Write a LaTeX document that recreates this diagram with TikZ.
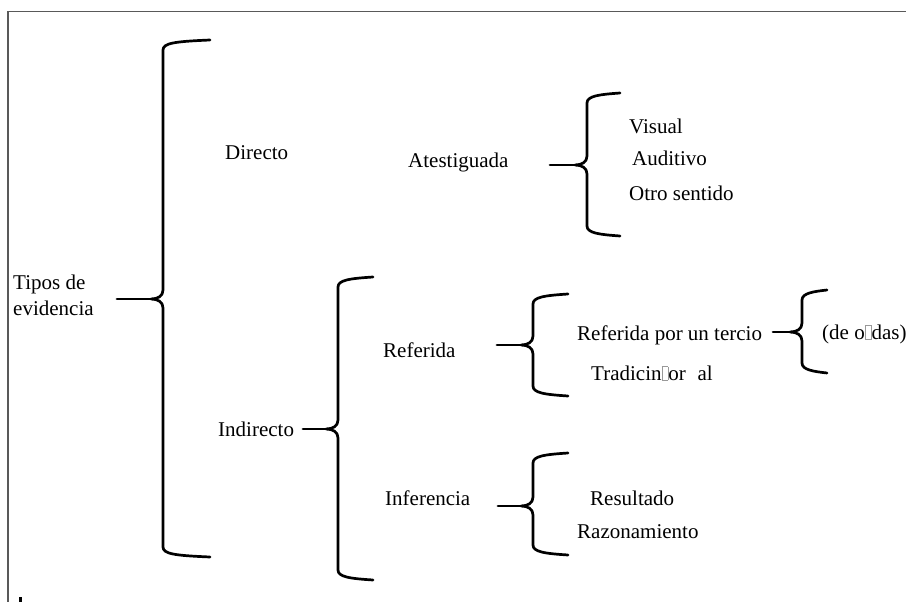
\documentclass[tikz,border=0pt]{standalone}
\usepackage{fontspec}
\setmainfont{Liberation Serif}
\newcommand{\singlifo}{{\color{gray!80}\setlength{\fboxsep}{0pt}\setlength{\fboxrule}{0.5pt}\fbox{\rule{0pt}{0.62em}\hspace{0.28em}}}}

\begin{document}
\begin{tikzpicture}[x=1pt,y=-1pt,
	llave/.style={line width=2.7pt,line cap=round,line join=round},
	etiqueta/.style={anchor=base west,inner sep=0pt,font=\fontsize{21}{26}\selectfont},
	marco/.style={draw=black!65,line width=1.3pt}]
\useasboundingbox (0,0) rectangle (906,602);

% marco
\draw[marco] (8,602) -- (8,11.5) -- (906,11.5);
\fill (19,597) rectangle (22,602);

% textos
\node[etiqueta,anchor=west,align=left] (tipos) at (13,295) {Tipos de\\evidencia};
\node[etiqueta] (directo) at (225,160) {Directo};
\node[etiqueta] (atest) at (408,167) {Atestiguada};
\node[etiqueta] (visual) at (629,134) {Visual};
\node[etiqueta] (auditivo) at (632,165) {Auditivo};
\node[etiqueta] (otro) at (629,200) {Otro sentido};
\node[etiqueta] (indirecto) at (218,436) {Indirecto};
\node[etiqueta] (referida) at (383,357) {Referida};
\node[etiqueta] (tercio) at (577,340) {Referida por un tercio};
\node[etiqueta] (tradicion) at (591,380) {Tradicin\singlifo or\hspace{0.55em}al};
\node[etiqueta] (oidas) at (822,339) {(de o\singlifo das)};
\node[etiqueta] (inferencia) at (385,505) {Inferencia};
\node[etiqueta] (resultado) at (590,505) {Resultado};
\node[etiqueta] (razon) at (577,538) {Razonamiento};

% llaves: cola, vertical, punta, arriba, medio, abajo
\foreach \xl/\xv/\xr/\yt/\ym/\yb in {117/163/210/40/299/557,
	550/587/620/93/165/236, 303/338/373/277/429/580,
	497/533/568/294/345/396, 773/802/827/290/332/373,
	498/533/568/453/506/555}
{
	\draw[llave] (\xr,\yt) .. controls (\xv+12,\yt+1.5) and (\xv,\yt+3) .. (\xv,\yt+10)
		-- (\xv,\ym-9) .. controls (\xv,\ym-3) and (\xv-5,\ym) .. (\xv-12,\ym)
		.. controls (\xv-5,\ym) and (\xv,\ym+3) .. (\xv,\ym+9)
		-- (\xv,\yb-10) .. controls (\xv,\yb-3) and (\xv+12,\yb-1.5) .. (\xr,\yb);
	\draw[llave] (\xl,\ym) -- (\xv-12,\ym);
}
\end{tikzpicture}
\end{document}
